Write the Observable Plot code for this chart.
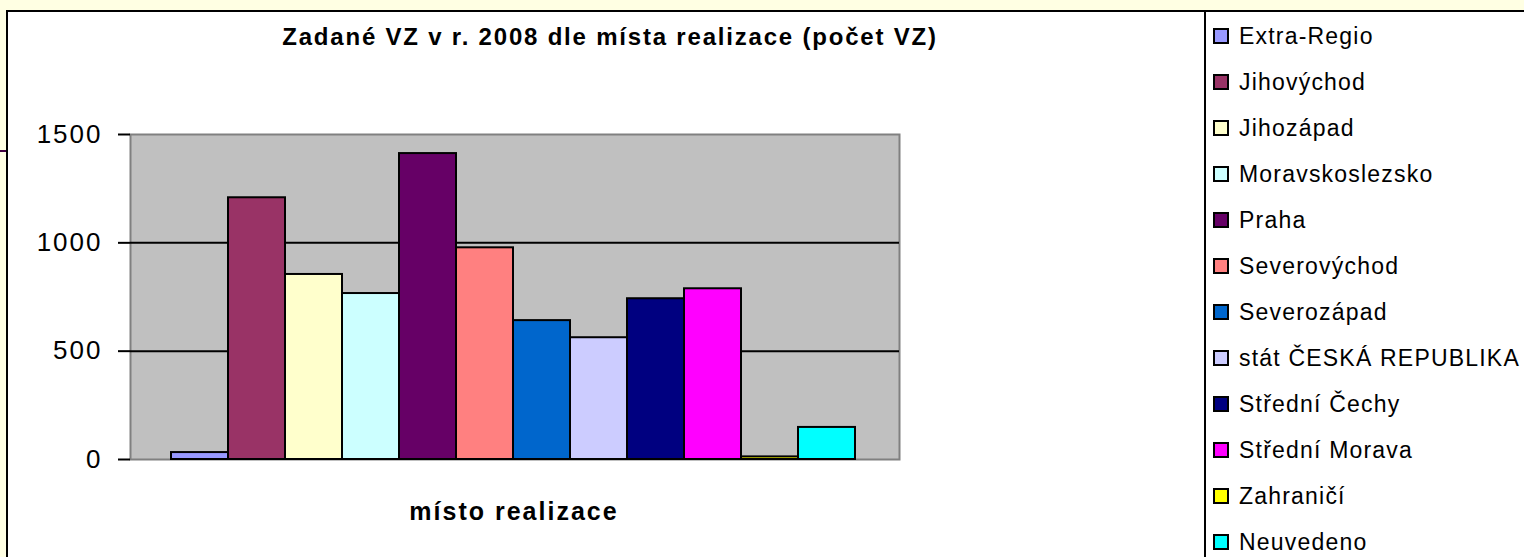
<!DOCTYPE html>
<html>
<head>
<meta charset="utf-8">
<script src="https://cdn.jsdelivr.net/npm/d3@7"></script>
<script src="https://cdn.jsdelivr.net/npm/@observablehq/plot@0.6"></script>
<style>
  html, body { margin: 0; padding: 0; }
  body { width: 1524px; height: 557px; overflow: hidden; background: #FFFFE3; position: relative; font-family: "Liberation Sans", Arial, sans-serif; }
  #panel { position: absolute; left: 6px; top: 10px; width: 1530px; height: 600px; background: #fff; border-left: 2px solid #000; border-top: 2px solid #000; box-sizing: border-box; }
  #leftmark { position: absolute; left: 0; top: 150px; width: 6px; height: 2px; background: #400040; }
  #chart { position: absolute; left: 0; top: 0; }
  #chart [aria-label="y-axis tick label"] { letter-spacing: 2px; }
  #title { position: absolute; left: 0; width: 1220px; top: 23px; text-align: center; font-weight: bold; font-size: 24px; letter-spacing: 1.8px; color: #000; white-space: nowrap; }
  #xlabel { position: absolute; left: 0; width: 1028px; top: 497px; text-align: center; font-weight: bold; font-size: 25px; letter-spacing: 2px; color: #000; white-space: nowrap; }
  #legline { position: absolute; left: 1204px; top: 10px; width: 2px; height: 560px; background: #000; }
  .item { position: absolute; left: 1213px; height: 20px; display: flex; align-items: center; white-space: nowrap; }
  .sw { width: 12px; height: 12px; border: 2px solid #000; margin-right: 10px; flex: none; }
  .lab { font-size: 23px; letter-spacing: 1.2px; color: #000; }
</style>
</head>
<body>
<div id="panel"></div>
<div id="leftmark"></div>
<div id="chart"></div>
<div id="title">Zadané VZ v r. 2008 dle místa realizace (počet VZ)</div>
<div id="xlabel">místo realizace</div>
<div id="legline"></div>
<div id="legend"></div>
<script>
const regions = ["Extra-Regio", "Jihovýchod", "Jihozápad", "Moravskoslezsko", "Praha", "Severovýchod", "Severozápad", "stát ČESKÁ REPUBLIKA", "Střední Čechy", "Střední Morava", "Zahraničí", "Neuvedeno"];
const counts = [32, 1208, 854, 766, 1412, 977, 641, 562, 742, 788, 12, 148];
const colors = ["#9999FF", "#993366", "#FFFFCC", "#CCFFFF", "#660066", "#FF8080", "#0066CC", "#CCCCFF", "#000080", "#FF00FF", "#FFFF00", "#00FFFF"];
const yTicks = [0, 500, 1000, 1500];
const gridValues = [500, 1000];

const data = regions.map((r, i) => ({region: r, count: counts[i]}));

const chart = Plot.plot({
  width: 1205,
  height: 557,
  marginLeft: 130,
  marginRight: 306,
  marginTop: 134,
  marginBottom: 98,
  style: {background: "transparent", fontFamily: "Liberation Sans, Arial, sans-serif", overflow: "visible"},
  x: {type: "band", domain: regions, range: [170, 856], padding: 0, axis: null},
  y: {domain: [0, 1500], axis: null},
  color: {domain: regions, range: colors},
  marks: [
    Plot.frame({fill: "#C0C0C0", stroke: "#808080", strokeWidth: 2}),
    Plot.ruleY(gridValues, {stroke: "#000", strokeWidth: 2}),
    Plot.barY(data, {x: "region", y: "count", fill: "region", stroke: "#000", strokeWidth: 2, insetLeft: 0, insetRight: 0}),
    Plot.axisY(yTicks, {anchor: "left", tickSize: 12, tickPadding: 16, stroke: "#000", strokeWidth: 2, fontSize: 26, fill: "#000", label: null, tickFormat: d => String(d)}),
    Plot.ruleX([0], {x: () => 0, frameAnchor: "left", stroke: "#000", strokeWidth: 2})
  ]
});
document.getElementById("chart").appendChild(chart);

const legend = document.getElementById("legend");
regions.forEach((r, i) => {
  const div = document.createElement("div");
  div.className = "item";
  div.style.top = (26 + 46 * i) + "px";
  const sw = document.createElement("div");
  sw.className = "sw";
  sw.style.background = colors[i];
  const lab = document.createElement("span");
  lab.className = "lab";
  lab.textContent = r;
  div.appendChild(sw);
  div.appendChild(lab);
  legend.appendChild(div);
});
</script>
</body>
</html>
